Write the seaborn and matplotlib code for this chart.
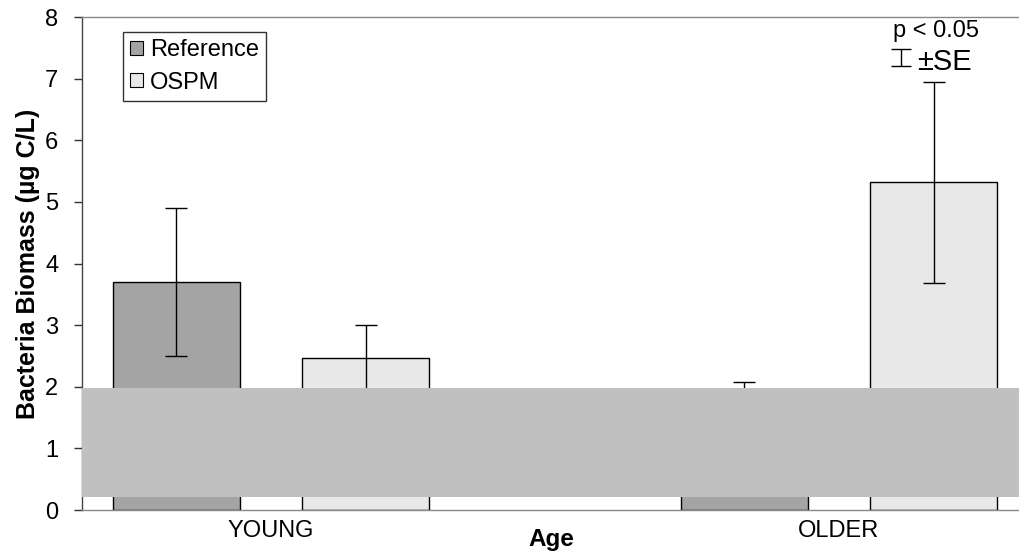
import matplotlib
matplotlib.use("Agg")
import matplotlib.pyplot as plt
import matplotlib.patches as mpatches
import seaborn as sns
import pandas as pd
import numpy as np

# Bacteria biomass by stream age and site type
ages = ["YOUNG", "OLDER"]
groups = ["Reference", "OSPM"]
biomass_reference = [3.70, 1.70]
biomass_ospm = [2.47, 5.32]
se_reference = [1.20, 0.38]
se_ospm = [0.53, 1.63]

y_ticks = [0, 1, 2, 3, 4, 5, 6, 7, 8]

df = pd.DataFrame({
    "Age": ages * 2,
    "Group": [groups[0]] * len(ages) + [groups[1]] * len(ages),
    "Biomass": biomass_reference + biomass_ospm,
    "SE": se_reference + se_ospm,
})

sns.set_theme(style="white")
plt.rcParams["font.family"] = ["Liberation Sans", "DejaVu Sans"]
plt.rcParams["text.color"] = "black"
plt.rcParams["axes.labelcolor"] = "black"
plt.rcParams["xtick.color"] = "black"
plt.rcParams["ytick.color"] = "black"

fig = plt.figure(figsize=(10.2, 5.56), dpi=100)
ax = fig.add_axes([0.0804, 0.0827, 0.9196, 0.8867])

palette = {"Reference": "#a4a4a4", "OSPM": "#e8e8e8"}
sns.barplot(data=df, x="Age", y="Biomass", hue="Group", order=ages,
            hue_order=groups, palette=palette, width=0.667, gap=0.33,
            edgecolor="black", linewidth=1.0, errorbar=None,
            legend=False, ax=ax, zorder=2)

# Error bars (±SE) centred on each bar
for patch, (_, row) in zip(ax.patches, df.iterrows()):
    cx = patch.get_x() + patch.get_width() / 2
    ax.errorbar(cx, row["Biomass"], yerr=row["SE"], fmt="none",
                ecolor="black", elinewidth=1.0, capsize=8, capthick=1.0,
                zorder=3)

# Grey band over the lower part of the plot
ax.axhspan(0.21, 1.98, color="#c0c0c0", zorder=5, linewidth=0)

ax.set_xlim(-0.3327, 1.3187)
ax.set_ylim(0, 8)
ax.set_yticks(y_ticks)
ax.set_yticklabels([str(t) for t in y_ticks], fontsize=17)
ax.tick_params(axis="y", direction="out", length=6, width=1, color="#333333",
               pad=11, left=True)
ax.tick_params(axis="x", length=0, labelsize=17, pad=7)

for side in ["left", "bottom", "top"]:
    ax.spines[side].set_visible(True)
ax.spines["right"].set_visible(False)
ax.spines["left"].set_color("#444444")
ax.spines["bottom"].set_color("#888888")
ax.spines["top"].set_color("#888888")
for s in ax.spines.values():
    s.set_linewidth(1.0)

ax.set_ylabel("Bacteria Biomass (µg C/L)", fontsize=18, fontweight="bold",
              labelpad=4)
ax.set_xlabel("Age", fontsize=17.5, fontweight="bold", labelpad=-10)

# Legend
handles = [mpatches.Patch(facecolor=palette[g], edgecolor="black",
                          linewidth=0.8, label=g) for g in groups]
leg = ax.legend(handles=handles, loc="upper left",
                bbox_to_anchor=(0.0437, 0.9696),
                bbox_transform=ax.transAxes, fontsize=17, frameon=True,
                fancybox=False, edgecolor="black", handlelength=0.55,
                handleheight=0.55, handletextpad=0.3, borderpad=0.3,
                labelspacing=0.45, borderaxespad=0)
leg.get_frame().set_linewidth(1.0)
leg.set_zorder(6)

# Significance note with an error-bar key
ax.text(1.171, 7.78, "p < 0.05", fontsize=17, ha="center", va="center")
ax.text(1.186, 7.27, "±SE", fontsize=21, ha="center", va="center")
ax.errorbar(1.109, 7.34, yerr=0.14, fmt="none", ecolor="black",
            elinewidth=1.0, capsize=7, capthick=1.0)

fig.savefig("out.png", dpi=100)
